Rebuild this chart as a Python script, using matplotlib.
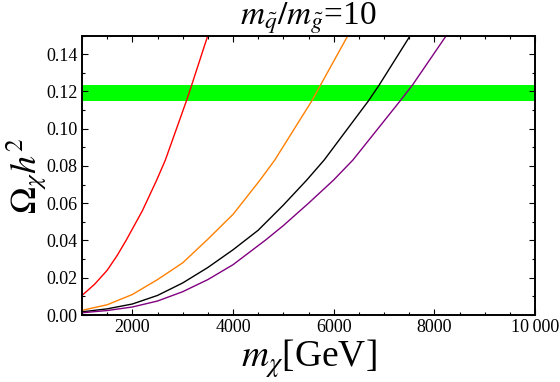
import matplotlib
import numpy as np
import matplotlib.pyplot as plt
from matplotlib.ticker import MultipleLocator, FixedLocator
matplotlib.use('Agg')

plt.rcParams['font.family'] = ['Liberation Serif', 'DejaVu Serif']
plt.rcParams['mathtext.fontset'] = 'stix'

# values (m in GeV, Omega h^2)
red_m = [1000, 1250, 1500, 1700, 1881, 2200, 2485, 2656, 3075, 3180, 3499]
red_v = [0.0105, 0.0165, 0.024, 0.032, 0.0403, 0.056, 0.0725, 0.0832, 0.115, 0.1235, 0.15]

orange_m = [1000, 1500, 2000, 2500, 3000, 3485, 4000, 4539, 4830, 5567, 5740, 6282]
orange_v = [0.0025, 0.0055, 0.011, 0.019, 0.028, 0.0403, 0.054, 0.0725, 0.0832, 0.115, 0.1235, 0.15]

black_m = [1000, 1500, 2000, 2500, 3000, 3500, 4000, 4500, 5000, 5467, 5811, 6692, 6905, 7521]
black_v = [0.0017, 0.0033, 0.0059, 0.0105, 0.0172, 0.0255, 0.035, 0.0455, 0.059, 0.0725, 0.0832, 0.115, 0.1235, 0.15]

purple_m = [1000, 1500, 2000, 2500, 3000, 3500, 4000, 4650, 5000, 5500, 6000, 6382, 7322, 7567, 8237]
purple_v = [0.0012, 0.0024, 0.0043, 0.0075, 0.0125, 0.019, 0.027, 0.0403, 0.048, 0.060, 0.0725, 0.0832, 0.115, 0.1235, 0.15]

band_lo, band_hi = 0.115, 0.1235

x_ticks = [2000, 4000, 6000, 8000, 10000]
x_labels = ['2000', '4000', '6000', '8000', '10\u2009000']
y_ticks = [0.00, 0.02, 0.04, 0.06, 0.08, 0.10, 0.12, 0.14]


def main():
    fig = plt.figure(figsize=(5.6, 3.82), dpi=100)
    ax = fig.add_axes([82/560, 67/382, 453/560, 279.4/382])

    ax.axhspan(band_lo, band_hi, color='#00ff00', lw=0, zorder=1)
    ax.plot(red_m, red_v, color='#ff0000', lw=1.0, zorder=2)
    ax.plot(orange_m, orange_v, color='#ff8000', lw=1.0, zorder=2)
    ax.plot(black_m, black_v, color='k', lw=1.0, zorder=2)
    ax.plot(purple_m, purple_v, color='#800080', lw=1.0, zorder=2)

    ax.set_xlim(1000, 10000)
    ax.set_ylim(0, 0.15)

    ax.xaxis.set_major_locator(FixedLocator(x_ticks))
    ax.set_xticklabels(x_labels)
    ax.xaxis.set_minor_locator(MultipleLocator(500))
    ax.yaxis.set_major_locator(FixedLocator(y_ticks))
    ax.set_yticklabels(['%.2f' % v for v in y_ticks])
    ax.yaxis.set_minor_locator(MultipleLocator(0.01))

    ax.tick_params(which='both', direction='in', top=True, right=True,
                   labelsize=13, color='k', width=0.8)
    ax.tick_params(which='major', length=4.5, pad=3)
    ax.tick_params(which='minor', length=2.5)
    for s in ax.spines.values():
        s.set_linewidth(1.4)

    ax.set_title(r'$m_{\tilde{q}}/m_{\tilde{g}}$=10', fontsize=24, pad=2)
    ax.set_xlabel(r'$m_{\chi}$[GeV]', fontsize=27, labelpad=1)
    ax.set_ylabel(r'$\Omega_{\chi} h^2$', fontsize=26)
    ax.yaxis.set_label_coords(-0.072, 0.5)

    fig.savefig('out.png', dpi=100)


main()
